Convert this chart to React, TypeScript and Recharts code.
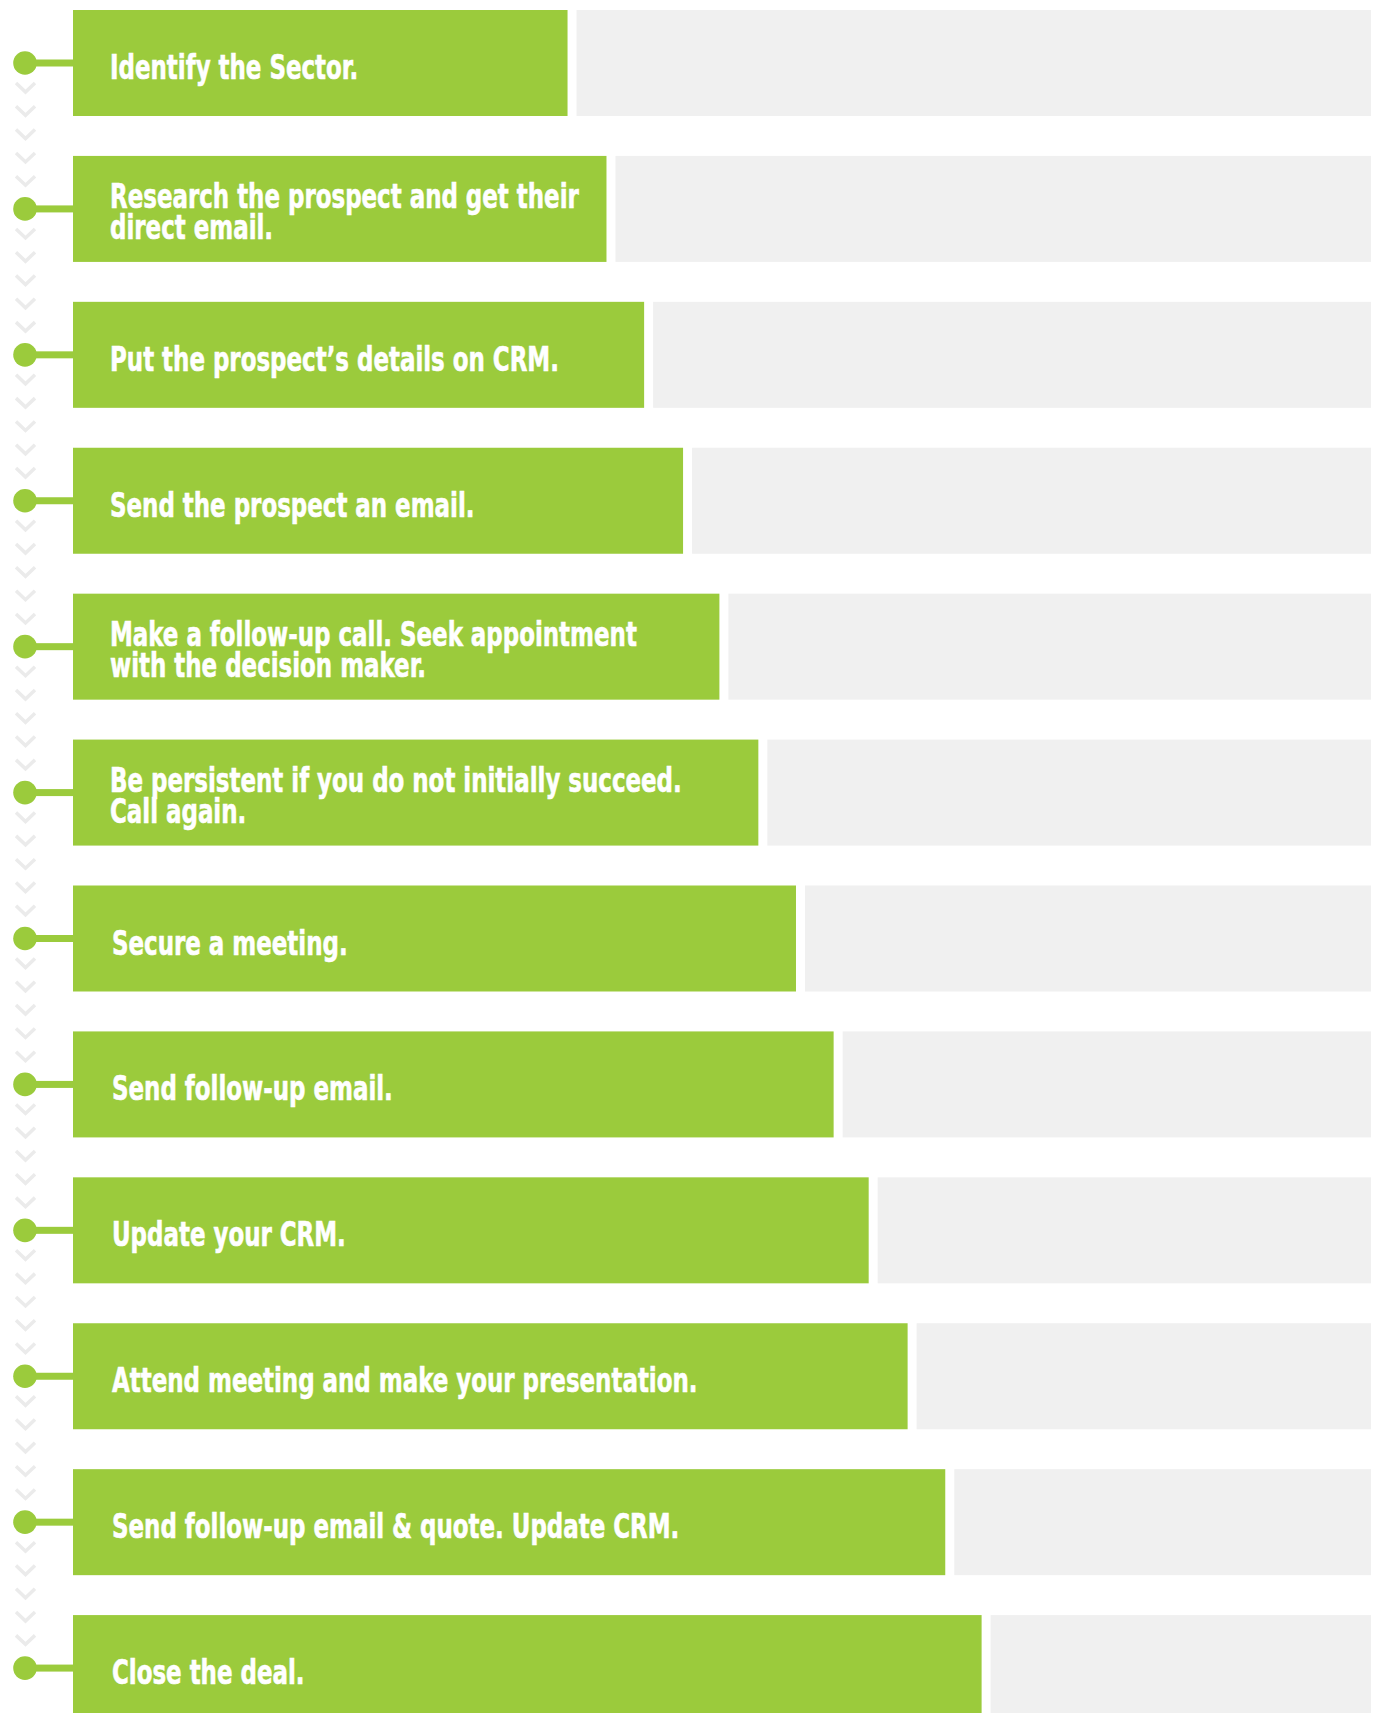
import React from "react";
import { BarChart, Bar, XAxis, YAxis } from "recharts";

const steps: string[] = [
  "Identify the Sector.",
  "Research the prospect and get their\ndirect email.",
  "Put the prospect\u2019s details on CRM.",
  "Send the prospect an email.",
  "Make a follow-up call. Seek appointment\nwith the decision maker.",
  "Be persistent if you do not initially succeed.\nCall again.",
  "Secure a meeting.",
  "Send follow-up email.",
  "Update your CRM.",
  "Attend meeting and make your presentation.",
  "Send follow-up email & quote. Update CRM.",
  "Close the deal.",
];

const progress: number[] = [38.1, 41.1, 44.0, 47.0, 49.8, 52.8, 55.7, 58.6, 61.3, 64.3, 67.2, 70.0];

const TOTAL = 100;

const data = steps.map((step, i) => ({
  step,
  done: progress[i],
  rest: TOTAL - progress[i],
  last: i === steps.length - 1,
}));

const GREEN = "#9BCB3C";
const GRAY = "#F0F0F0";
const CHEVRON = "#EBEBEB";

const DoneShape = (props: any) => {
  const { x, y, width, height, payload, index } = props;
  const cy = y + height / 2;
  const dotX = x - 48;
  const lines: string[] = String(payload.step).split("\n");
  const chevrons: number[] = payload.last ? [] : [0, 1, 2, 3, 4];
  const baseY = lines.length === 1 ? cy + 16 : cy - 1;
  const tx = x + 37 + (index >= 6 ? 2 : 0);
  return (
    <g>
      {chevrons.map((k) => {
        const c = cy + 25 + k * 23.3;
        return (
          <polyline
            key={k}
            points={`${dotX - 9},${c - 5} ${dotX + 0.5},${c + 4} ${dotX + 10},${c - 5}`}
            fill="none"
            stroke={CHEVRON}
            strokeWidth={3.5}
          />
        );
      })}
      <rect x={dotX} y={cy - 3.5} width={x - dotX + 1} height={7} fill={GREEN} />
      <circle cx={dotX} cy={cy} r={11.8} fill={GREEN} />
      <rect x={x} y={y} width={width} height={height} fill={GREEN} />
      <g transform={`translate(${tx},${baseY}) scale(0.75,1)`}>
        <text
          x={0}
          y={0}
          fill="#ffffff"
          stroke="#ffffff"
          strokeWidth={0.6}
          fontFamily="'DejaVu Sans Condensed', 'DejaVu Sans', sans-serif"
          fontWeight="bold"
          fontSize={34}
        >
          {lines.map((ln, i) => (
            <tspan key={i} x={0} dy={i === 0 ? 0 : 31}>
              {ln}
            </tspan>
          ))}
        </text>
      </g>
    </g>
  );
};

const RestShape = (props: any) => {
  const { x, y, width, height } = props;
  const gap = 9;
  return <rect x={x + gap} y={y} width={Math.max(0, width - gap)} height={height} fill={GRAY} />;
};

export default function App() {
  return (
    <div
      style={{
        position: "absolute",
        left: 0,
        top: 0,
        width: 1378,
        height: 1713,
        overflow: "hidden",
        background: "#ffffff",
      }}
    >
      <div style={{ marginTop: -10 }}>
        <BarChart
          width={1378}
          height={1751}
          data={data}
          layout="vertical"
          margin={{ top: 0, right: 7, left: 73, bottom: 0 }}
          barSize={106}
        >
          <XAxis type="number" domain={[0, TOTAL]} hide />
          <YAxis type="category" dataKey="step" hide />
          <Bar dataKey="done" stackId="a" isAnimationActive={false} shape={DoneShape} />
          <Bar dataKey="rest" stackId="a" isAnimationActive={false} shape={RestShape} />
        </BarChart>
      </div>
    </div>
  );
}
